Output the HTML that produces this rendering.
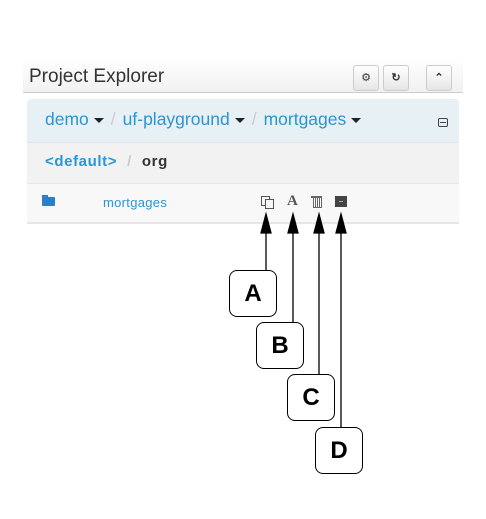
<!DOCTYPE html>
<html><head><style>
body{margin:0;width:486px;height:519px;background:#fff;position:relative;font-family:"Liberation Sans",sans-serif;overflow:hidden}
.a{position:absolute}
.btn{position:absolute;top:65px;width:24px;height:24px;border:1px solid #ccc;border-radius:3px;background:linear-gradient(#fff,#e6e6e6);font-size:11px;text-align:center;line-height:24px;color:#333}
.box{position:absolute;width:46px;height:45px;border:1.3px solid #000;border-radius:8px;background:#fff;font-weight:bold;font-size:24px;text-align:center;line-height:46px}
.blue{color:#2a95d6}
.car{display:inline-block;border-left:5px solid transparent;border-right:5px solid transparent;border-top:5px solid #222;vertical-align:middle;margin-left:5px}
.sl{color:#ccc;margin:0 7px}
</style></head><body>
<div class="a" style="left:23px;top:58px;width:440px;height:34px;background:linear-gradient(#fff,#f1f1f1);border-bottom:1px solid #ccc"></div>
<div class="a" style="left:29px;top:66px;font-size:19px;color:#333">Project Explorer</div>
<div class="btn" style="left:353px">&#9881;</div>
<div class="btn" style="left:383px;font-weight:bold">&#8635;</div>
<div class="btn" style="left:426px;font-weight:bold">&#8963;</div>
<div class="a" style="left:27px;top:99px;width:432px;height:43px;background:#e6f0f5;border-radius:4px 4px 0 0"></div>
<div class="a" style="left:45px;top:109px;font-size:17.5px;color:#2a95d6;white-space:nowrap">demo<span class="car"></span><span class="sl">/</span>uf-playground<span class="car"></span><span class="sl">/</span>mortgages<span class="car"></span></div>
<div class="a" style="left:438px;top:118px;width:8px;height:7px;border:1px solid #444;border-radius:2px"><div style="margin:3px 1px 0;height:1px;background:#444"></div></div>
<div class="a" style="left:27px;top:142px;width:432px;height:40px;background:#f2f2f2;border-top:1px solid #e4e4e4"></div>
<div class="a" style="left:45px;top:153px;font-size:15px;font-weight:bold;white-space:nowrap;letter-spacing:0.6px"><span class="blue">&lt;default&gt;</span><span class="sl" style="margin:0 10px">/</span><span style="color:#333">org</span></div>
<div class="a" style="left:27px;top:183px;width:432px;height:38px;background:#f8f8f8;border-top:1px solid #e6e6e6;border-bottom:2px solid #e6e6e6"></div>
<div class="a" style="left:42px;top:197px;width:13px;height:9px;background:#2a7fc6;border-radius:1px"></div>
<div class="a" style="left:42px;top:195px;width:6px;height:3px;background:#2a7fc6"></div>
<div class="a" style="left:103px;top:195px;font-size:13px;color:#2a95d6;letter-spacing:0.3px">mortgages</div>
<div class="a" style="left:261px;top:196px;width:7px;height:8px;border:1px solid #555"></div>
<div class="a" style="left:265px;top:199px;width:7px;height:8px;border:1px solid #555;background:#f8f8f8"></div>
<div class="a" style="left:287px;top:193px;font-family:'Liberation Serif',serif;font-weight:bold;font-size:15px;color:#555">A</div>
<div class="a" style="left:313px;top:198px;width:7px;height:9px;border:1px solid #666;border-top:none;background:repeating-linear-gradient(90deg,#fff 0 1px,#666 1px 2px)"></div>
<div class="a" style="left:311px;top:196px;width:11px;height:1.5px;background:#666"></div>
<div class="a" style="left:335px;top:196px;width:12px;height:11px;background:#444"><div style="margin:5px 4px 0;height:1px;background:#aaa"></div></div>
<svg class="a" style="left:0;top:0" width="486" height="519">
<g stroke="#000" stroke-width="1.3" fill="#000">
<line x1="266" y1="225" x2="266" y2="270"/><polygon points="266,214 261,233 271,233"/>
<line x1="293" y1="225" x2="293" y2="322"/><polygon points="293,214 288,233 298,233"/>
<line x1="319" y1="225" x2="319" y2="374"/><polygon points="319,214 314,233 324,233"/>
<line x1="341" y1="225" x2="341" y2="427"/><polygon points="341,214 336,233 346,233"/>
</g></svg>
<div class="box" style="left:229px;top:270px">A</div>
<div class="box" style="left:256px;top:322px">B</div>
<div class="box" style="left:287px;top:374px">C</div>
<div class="box" style="left:315px;top:427px">D</div>
</body></html>
